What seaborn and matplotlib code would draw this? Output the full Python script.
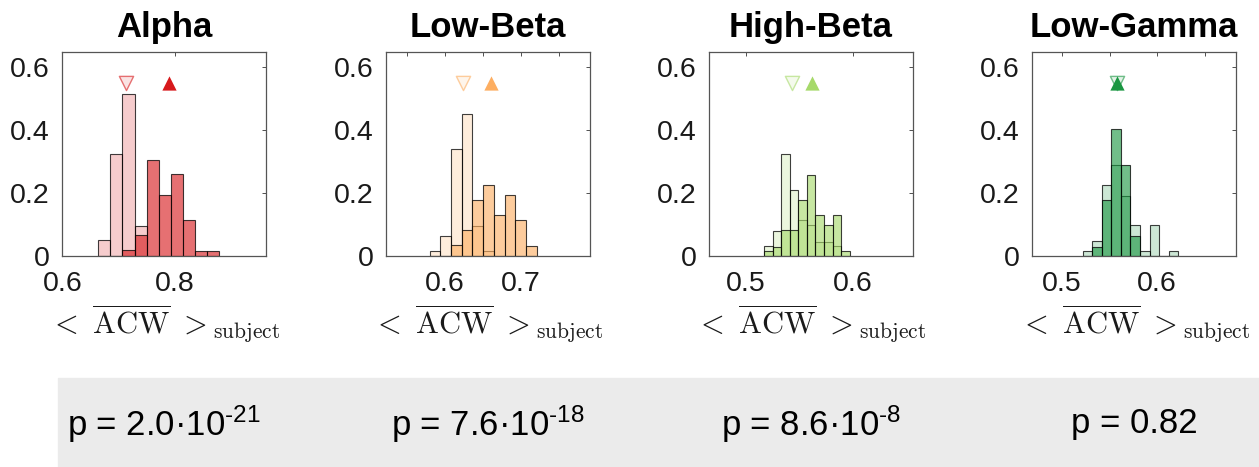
import numpy as np
import pandas as pd
import matplotlib
matplotlib.use("Agg")
import matplotlib.pyplot as plt
import seaborn as sns
from matplotlib.patches import Rectangle

sns.set_style("white")
plt.rcParams["font.family"] = ["Liberation Sans", "DejaVu Sans"]
plt.rcParams["mathtext.fontset"] = "custom"
plt.rcParams["mathtext.rm"] = "Liberation Sans"
plt.rcParams["mathtext.it"] = "Liberation Sans:italic"
plt.rcParams["mathtext.bf"] = "Liberation Sans:bold"

# ── data (bin heights) ──────────────────────────────────────
bands = ["Alpha", "Low-Beta", "High-Beta", "Low-Gamma"]
colors = ["#d7191c", "#fdae61", "#a6d96a", "#1a9641"]

# first bin edge and bin width per band
bin_start = [0.664, 0.580, 0.5173, 0.522]
bin_width = [0.0214, 0.01405, 0.00797, 0.0100]

# light = first condition, dark = second condition
light_alpha = [0.051, 0.323, 0.514, 0.096, 0, 0, 0, 0, 0, 0]
dark_alpha = [0, 0, 0.019, 0.066, 0.305, 0.193, 0.260, 0.115, 0.017, 0.017]

light_lowbeta = [0.017, 0.065, 0.339, 0.452, 0.096, 0.017, 0, 0, 0, 0]
dark_lowbeta = [0, 0, 0.035, 0.083, 0.178, 0.226, 0.130, 0.194, 0.115, 0.033]

light_highbeta = [0.032, 0.080, 0.323, 0.210, 0.115, 0.097, 0.046, 0.046, 0.033, 0]
dark_highbeta = [0.017, 0.030, 0.083, 0.083, 0.178, 0.258, 0.130, 0.097, 0.130, 0.017]

light_lowgamma = [0.016, 0.048, 0.226, 0.290, 0.192, 0.097, 0.017, 0.097, 0, 0.017]
dark_lowgamma = [0, 0.030, 0.178, 0.403, 0.290, 0.065, 0, 0, 0, 0]

light_all = [light_alpha, light_lowbeta, light_highbeta, light_lowgamma]
dark_all = [dark_alpha, dark_lowbeta, dark_highbeta, dark_lowgamma]

# medians shown as triangles
light_marker = [0.713, 0.624, 0.543, 0.558]
dark_marker = [0.789, 0.661, 0.562, 0.558]
marker_y = 0.55

xlims = [(0.60, 0.962), (0.523, 0.790), (0.466, 0.656), (0.469, 0.683)]
xtick_labels = [[0.6, 0.8], [0.6, 0.7], [0.5, 0.6], [0.5, 0.6]]
minor_ticks = [[0.6, 0.8], [0.55, 0.6, 0.65, 0.7, 0.75], [0.5, 0.6], [0.5, 0.55, 0.6, 0.65]]

pvals = [r"p = 2.0·10$^{\text{-21}}$", r"p = 7.6·10$^{\text{-18}}$",
         r"p = 8.6·10$^{\text{-8}}$", "p = 0.82"]

# ── layout in pixels ─────────────────────────────────────────
W, H = 1259, 467
ax_left = [62.3, 386, 709, 1032.3]
ax_w = 204
ax_top, ax_bot = 52, 256

fig = plt.figure(figsize=(W / 100, H / 100), dpi=100)
fig.patches.append(Rectangle((58 / W, 0), 1 - 58 / W, (H - 378) / H,
                             transform=fig.transFigure, color="#ebebeb", zorder=0))

for i, band in enumerate(bands):
    ax = fig.add_axes([ax_left[i] / W, 1 - ax_bot / H, ax_w / W, (ax_bot - ax_top) / H])
    edges = [bin_start[i] + bin_width[i] * k for k in range(11)]
    centers = [(edges[k] + edges[k + 1]) / 2 for k in range(10)]
    df = pd.DataFrame({"x": centers, "light": light_all[i], "dark": dark_all[i]})

    sns.histplot(data=df, x="x", weights="light", bins=edges, ax=ax,
                 color=colors[i], alpha=0.22, edgecolor=(0, 0, 0, 0.75), linewidth=0.8)
    sns.histplot(data=df, x="x", weights="dark", bins=edges, ax=ax,
                 color=colors[i], alpha=0.62, edgecolor=(0, 0, 0, 0.75), linewidth=0.8)

    ax.scatter([light_marker[i]], [marker_y], marker="v", s=105,
               facecolor=matplotlib.colors.to_rgba(colors[i], 0.12),
               edgecolor=matplotlib.colors.to_rgba(colors[i], 0.6), linewidth=1.0, zorder=5)
    ax.scatter([dark_marker[i]], [marker_y], marker="^", s=105,
               color=colors[i], linewidth=0, zorder=6)

    ax.set_xlim(*xlims[i])
    ax.set_ylim(0, 0.648)
    ax.set_xticks(minor_ticks[i])
    ax.set_xticklabels([str(t) if t in xtick_labels[i] else "" for t in minor_ticks[i]])
    ax.set_yticks([0, 0.2, 0.4, 0.6])
    ax.set_yticklabels(["0", "0.2", "0.4", "0.6"])
    ax.tick_params(direction="in", top=True, right=True, length=3, width=0.6,
                   color="#333333", labelsize=20.5, labelcolor="#1a1a1a")
    ax.tick_params(axis="x", pad=11)
    ax.tick_params(axis="y", pad=9)
    for s in ax.spines.values():
        s.set_color("#555555")
        s.set_linewidth(0.9)
    ax.set_ylabel("")
    ax.set_xlabel(r"$<\ \overline{\mathrm{ACW}}\ >_{\mathrm{subject}}$", fontsize=22,
                  math_fontfamily="cm", labelpad=3.5, color="#1a1a1a")
    ax.set_title(band, fontsize=25, fontweight="bold", pad=11, color="black")

    fig.text((ax_left[i] + ax_w / 2) / W, 1 - 424 / H, pvals[i], fontsize=25,
             ha="center", va="center", color="black")

fig.savefig("out.png", dpi=100)
